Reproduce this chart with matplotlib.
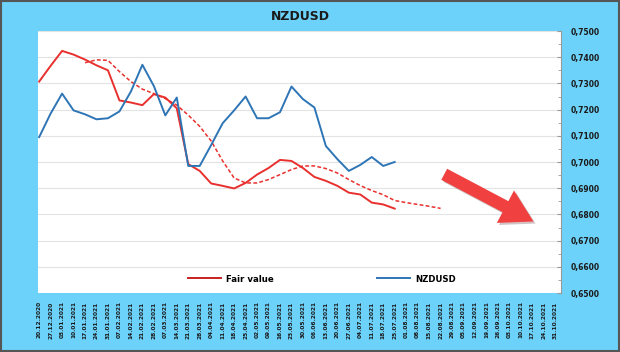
import numpy as np
import pandas as pd
import matplotlib
matplotlib.use("Agg")
import matplotlib.pyplot as plt
from matplotlib.patches import Rectangle
from matplotlib.ticker import MultipleLocator, FuncFormatter
import matplotlib.patheffects as pe

dates = pd.date_range("2020-12-20", "2021-10-31", freq="7D")
date_labels = [d.strftime("%d.%m.%Y") for d in dates]

nzdusd = [0.7095, 0.7185, 0.7261, 0.7197, 0.7182, 0.7163, 0.7167, 0.7193, 0.7269, 0.7371,
          0.7290, 0.7178, 0.7246, 0.6985, 0.6985, 0.7065, 0.7148, 0.7197, 0.7250, 0.7167,
          0.7167, 0.7190, 0.7288, 0.7240, 0.7208, 0.7061, 0.7011, 0.6966, 0.6989, 0.7019,
          0.6985, 0.7000]

fair_value = [0.7307, 0.7367, 0.7424, 0.7410, 0.7391, 0.7369, 0.7350, 0.7235, 0.7227, 0.7217,
              0.7259, 0.7246, 0.7205, 0.6992, 0.6966, 0.6918, 0.6909, 0.6899, 0.6920, 0.6952,
              0.6977, 0.7008, 0.7004, 0.6977, 0.6943, 0.6928, 0.6909, 0.6883, 0.6876, 0.6845,
              0.6838, 0.6822]

# smoothed fair value, starts at week 5
trend_start = 4
fair_trend = [0.7379, 0.7390, 0.7388, 0.7345, 0.7307, 0.7278, 0.7261, 0.7242, 0.7217, 0.7179,
              0.7136, 0.7080, 0.7004, 0.6939, 0.6920, 0.6920, 0.6933, 0.6952, 0.6971, 0.6985,
              0.6985, 0.6975, 0.6958, 0.6933, 0.6910, 0.6891, 0.6875, 0.6853, 0.6845, 0.6838,
              0.6831, 0.6823]

bg = "#6dd2fa"
red = "#e8302e"
blue = "#2e75b6"

fig = plt.figure(figsize=(6.2, 3.52), dpi=100, facecolor=bg)
ax = fig.add_axes([38 / 620, 1 - 293 / 352, 523 / 620, 262 / 352])
ax.set_facecolor("white")

x_blue = np.arange(len(nzdusd))
x_fair = np.arange(len(fair_value))
x_trend = np.arange(trend_start, trend_start + len(fair_trend))

ax.plot(x_fair, fair_value, color=red, lw=1.4, label="Fair value")
ax.plot(x_trend, fair_trend, color=red, lw=1.1, ls=(0, (2.5, 1.5)))
ax.plot(x_blue, nzdusd, color=blue, lw=1.4, label="NZDUSD")

ax.set_xlim(-0.1, 45.5)
ax.set_ylim(0.65, 0.75)

ax.yaxis.tick_right()
ax.yaxis.set_major_locator(MultipleLocator(0.01))
ax.yaxis.set_minor_locator(MultipleLocator(0.005))
ax.yaxis.set_major_formatter(FuncFormatter(lambda v, p: f"{v:.4f}".replace(".", ",")))
ax.tick_params(axis="y", which="major", direction="in", length=3, color="#999999",
               pad=7, labelsize=5.5)
ax.tick_params(axis="y", which="minor", direction="in", length=2, color="#999999")
for t in ax.get_yticklabels():
    t.set_fontweight("bold")
    t.set_color("#1a1a1a")

ax.set_xticks(range(len(date_labels)))
ax.set_xticklabels(date_labels, rotation=90, fontsize=4.2, fontweight="bold", color="#1a1a1a")
ax.tick_params(axis="x", length=0, pad=6)

ax.grid(axis="y", color="#e3e3e3", lw=0.8)
ax.set_axisbelow(True)
for s in ["top", "left", "bottom"]:
    ax.spines[s].set_visible(False)
ax.spines["right"].set_color("#999999")
ax.spines["right"].set_linewidth(0.8)

leg = fig.legend(loc="center", bbox_to_anchor=(322 / 620, 1 - 279 / 352), ncol=2,
                 frameon=False, handlelength=3.8, handletextpad=0.6, columnspacing=12,
                 prop={"size": 6.2, "weight": "bold"})
leg.get_lines()[0].set_color("#c82020")

ax.annotate("", xy=(0.952, 0.268), xytext=(0.772, 0.458), xycoords="axes fraction",
            arrowprops=dict(arrowstyle="simple,head_length=1.9,head_width=2.2,tail_width=0.75",
                            mutation_scale=12, color="#f04040", lw=0,
                            path_effects=[pe.SimplePatchShadow(offset=(1.5, -1.5), alpha=0.25),
                                          pe.Normal()]))

fig.text(300 / 620, 1 - 16 / 352, "NZDUSD", ha="center", va="center",
         fontsize=9, fontweight="bold", color="#1a1a1a")

fig.patches.append(Rectangle((0.001, 0.002), 0.997, 0.996, transform=fig.transFigure,
                             fill=False, edgecolor="#555555", lw=1.5))

fig.savefig("out.png", dpi=100, facecolor=bg)
